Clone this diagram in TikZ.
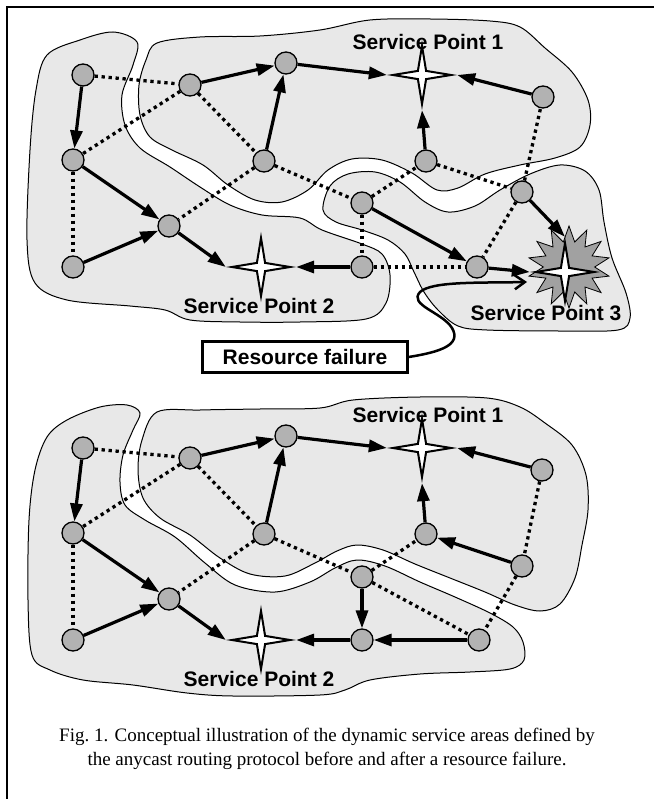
\documentclass[tikz,border=0pt]{standalone}
\usepackage{fontspec}
\setmainfont{Liberation Serif}
\newfontfamily\labelfont{Liberation Sans}
\usetikzlibrary{shapes.geometric,arrows.meta}

\begin{document}
\begin{tikzpicture}[x=1pt,y=-1pt]
    \tikzstyle{vertex}=[circle,draw=black,fill=black!30,line width=1.3pt,minimum size=22pt,inner sep=0pt]
    \tikzstyle{spoint}=[star,star points=4,star point ratio=5,minimum size=58pt,inner sep=0pt,draw=black,fill=white,line width=2pt]
    \tikzstyle{burst}=[star,star points=14,star point ratio=1.6,minimum size=82pt,inner sep=0pt,draw=black,fill=black!37,line width=0.8pt]
    \tikzstyle{area}=[draw=black,fill=black!9,line width=1pt]
    \tikzstyle{route}=[line width=3.2pt,-{Triangle[length=18pt,width=12pt]}]
    \tikzstyle{link}=[line width=3.3pt,dash pattern=on 3.3pt off 3.7pt]
    \tikzstyle{splabel}=[font=\labelfont\bfseries\fontsize{21}{25}\selectfont,inner sep=0pt]
    \useasboundingbox (0,0) rectangle (653,799);
    \draw[line width=2pt] (7,812) -- (7,7) -- (660,7);

    % before the failure
    \draw[area] plot[smooth cycle,tension=0.55] coordinates {(47,55) (80,40) (113,32) (137,42) (133,65) (122,95) (125,125) (140,148) (170,167) (200,187) (230,205) (262,215) (300,218) (322,230) (362,244) (382,254) (390,275) (386,303) (366,319) (300,322) (240,322) (190,320) (165,310) (130,306) (67,300) (35,283) (27,240) (30,150) (36,90)};
    \draw[area] plot[smooth cycle,tension=0.55] coordinates {(157,43) (200,37) (260,36) (320,30) (370,20) (430,19) (490,21) (520,27) (545,48) (572,72) (588,100) (590,125) (580,147) (555,158) (520,165) (485,174) (458,188) (437,190) (412,173) (382,160) (352,159) (328,170) (308,190) (282,202) (255,200) (228,185) (203,165) (172,150) (150,137) (140,115) (139,85) (146,60)};
    \draw[area] plot[smooth cycle,tension=0.55] coordinates {(323,210) (330,186) (348,174) (375,172) (400,182) (425,202) (448,212) (475,206) (500,190) (530,174) (560,165) (585,171) (599,190) (604,222) (612,258) (626,293) (630,318) (618,330) (560,331) (487,330) (458,326) (438,310) (424,292) (414,272) (405,254) (388,240) (362,230) (336,222)};

    \node[splabel] (L-1) at (428,42) {Service Point 1};
    \node[splabel] (L-2) at (259,306) {Service Point 2};
    \node[splabel] (L-3) at (546,313) {Service Point 3};

    \foreach \num/\x/\y in {1/83/75, 2/190/85, 3/286/63, 4/73/160, 5/264/161, 6/169/226, 7/73/267,
                            8/543/97, 9/426/161, 10/362/203, 11/522/192, 12/362/267, 13/477/267}
        \node[vertex] (V-\num) at (\x,\y) {};
    \node[burst] (burst) at (569,267) {};
    \node[spoint] (SP-1) at (422,75) {};
    \node[spoint] (SP-2) at (261,267) {};
    \node[spoint] (SP-3) at (565,272) {};

    \foreach \from/\to in {1/2, 2/4, 2/5, 4/7, 5/6, 5/10, 10/9, 9/11, 11/8, 11/13, 10/12, 12/13}
        \draw[link] (V-\from) -- (V-\to);
    \foreach \from/\to in {1/4, 2/3, 5/3, 4/6, 7/6, 10/13}
        \draw[route] (V-\from) -- (V-\to);
    \draw[route] (V-3) -- (SP-1.west);
    \draw[route] (V-8) -- (SP-1.east);
    \draw[route] (V-9) -- (SP-1.south);
    \draw[route] (V-6) -- (SP-2.west);
    \draw[route] (V-12) -- (SP-2.east);
    \draw[route] (V-13) -- (SP-3.west);
    \draw[route] (V-11) -- (SP-3.north);

    \node[splabel,draw=black,line width=2.5pt,fill=white,minimum width=205pt,minimum height=31pt] (failure) at (305,357) {Resource failure};
    \coordinate (hit) at (527,282);
    \draw[line width=2.5pt,-{Straight Barb[length=10pt,width=14pt]}] (failure.east) .. controls (440,352) and (462,345) .. (452,328)
        .. controls (442,312) and (408,305) .. (420,292) .. controls (432,281) and (480,283) .. (hit);

    % after the failure
    \draw[area] plot[smooth cycle,tension=0.55] coordinates {(47,437) (67,420) (100,407) (127,405) (140,413) (133,430) (123,455) (120,482) (125,505) (145,520) (175,537) (205,563) (235,585) (275,592) (310,582) (335,568) (357,560) (385,566) (420,582) (455,597) (490,613) (513,627) (523,642) (524,660) (510,669) (470,672) (420,674) (370,680) (345,690) (320,695) (233,696) (187,693) (133,685) (83,680) (50,670) (32,655) (28,600) (29,520) (35,470)};
    \draw[area] plot[smooth cycle,tension=0.55] coordinates {(157,412) (200,410) (260,409) (320,408) (353,400) (420,397) (487,398) (520,407) (545,423) (572,445) (586,475) (588,510) (582,545) (575,578) (560,604) (540,611) (515,605) (485,592) (450,578) (415,564) (383,550) (357,545) (337,551) (315,563) (285,576) (250,574) (220,558) (190,535) (160,518) (143,498) (138,470) (142,440)};

    \node[splabel] (L-4) at (428,415) {Service Point 1};
    \node[splabel] (L-5) at (259,679) {Service Point 2};

    \foreach \num/\x/\y in {1/83/448, 2/190/458, 3/286/436, 4/73/533, 5/264/534, 6/169/599, 7/73/640,
                            8/542/470, 9/426/534, 10/362/577, 11/522/566, 12/362/640, 13/479/640}
        \node[vertex] (W-\num) at (\x,\y) {};
    \node[spoint] (SQ-1) at (422,448) {};
    \node[spoint] (SQ-2) at (261,640) {};

    \foreach \from/\to in {1/2, 2/4, 2/5, 4/7, 5/6, 5/10, 10/9, 8/11, 11/13, 10/13}
        \draw[link] (W-\from) -- (W-\to);
    \foreach \from/\to in {1/4, 2/3, 5/3, 4/6, 7/6, 11/9, 10/12, 13/12}
        \draw[route] (W-\from) -- (W-\to);
    \draw[route] (W-3) -- (SQ-1.west);
    \draw[route] (W-8) -- (SQ-1.east);
    \draw[route] (W-9) -- (SQ-1.south);
    \draw[route] (W-6) -- (SQ-2.west);
    \draw[route] (W-12) -- (SQ-2.east);

    \node[align=center,font=\fontsize{19}{24}\selectfont] (caption) at (327,749)
        {Fig.~1. Conceptual illustration of the dynamic service areas defined by\\
         the anycast routing protocol before and after a resource failure.};
\end{tikzpicture}
\end{document}
